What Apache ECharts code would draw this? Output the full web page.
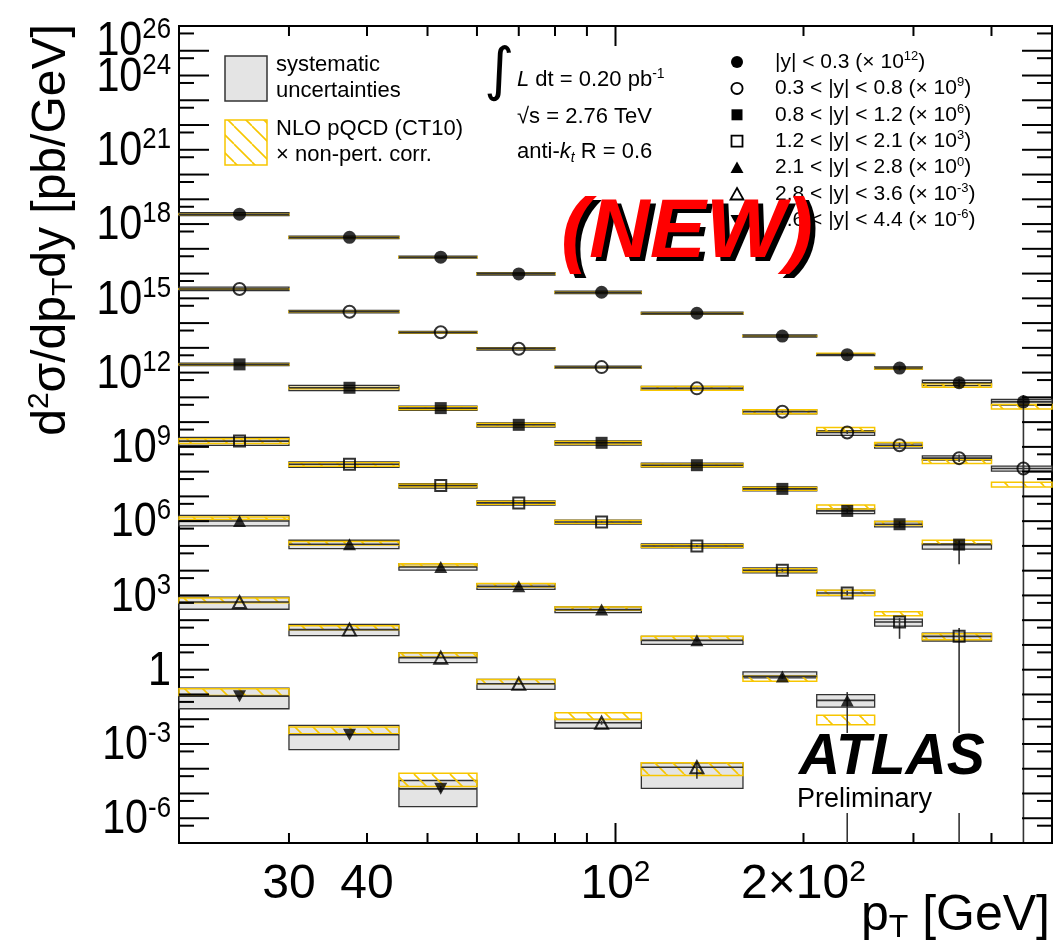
<!DOCTYPE html>
<html><head><meta charset="utf-8">
<script src="https://cdn.jsdelivr.net/npm/echarts@6/dist/echarts.min.js"></script>
<style>html,body{margin:0;padding:0;background:#fff}#c{width:1060px;height:952px}</style>
</head><body><div id="c"></div>
<script>
// ---------------- data ----------------
const xMin = 20, xMax = 500, yMin = 1e-7, yMax = 1e26;
const binEdges = [20, 30, 45, 60, 80, 110, 160, 210, 260, 310, 400, 500];
const rapidityBins = ['|y| < 0.3', '0.3 < |y| < 0.8', '0.8 < |y| < 1.2', '1.2 < |y| < 2.1',
                      '2.1 < |y| < 2.8', '2.8 < |y| < 3.6', '3.6 < |y| < 4.4'];
const scaleExponents = [12, 9, 6, 3, 0, -3, -6];
// d2sigma/dpT dy [pb/GeV], unscaled
const crossSection = [
  [2.5e6, 2.9e5, 4.6e4, 9.7e3, 1.76e3, 250, 30, 5.3, 1.53, 0.39, 0.066],
  [2.39e6, 2.88e5, 4.24e4, 9.2e3, 1.67e3, 231, 26.1, 3.83, 1.17, 0.35, 0.134],
  [2.15e6, 2.44e5, 3.68e4, 7.78e3, 1.46e3, 182, 20.1, 2.59, 0.75, 0.113],
  [1.71e6, 2.0e5, 2.75e4, 5.46e3, 930, 99.6, 10.4, 1.25, 0.084, 0.0222],
  [1.02e6, 1.17e5, 1.41e4, 2.33e3, 267, 15.3, 0.536, 0.0574],
  [5.41e5, 4.14e4, 3.06e3, 272, 7.2, 0.115],
  [8.55e4, 2.35e3, 15.4]
];
// statistical uncertainties [%]
const statUp = [
  [1, 1, 2, 3, 4, 6, 10, 15, 25, 45, 87],
  [1, 1, 2, 3, 4, 6, 10, 15, 25, 40, 40],
  [1, 1, 2, 3, 4, 6, 10, 18, 30, 45],
  [1, 1, 2, 3, 5, 8, 15, 25, 45, 117],
  [1, 1, 2, 3, 5, 10, 25, 117],
  [1, 2, 4, 8, 20, 50],
  [2, 6, 30]
];
const statDown = [
  [1, 1, 2, 3, 4, 6, 9, 13, 20, 35, 100],
  [1, 1, 2, 3, 4, 6, 9, 13, 20, 30, 30],
  [1, 1, 2, 3, 4, 6, 9, 15, 25, 84],
  [1, 1, 2, 3, 5, 8, 13, 20, 79, 100],
  [1, 1, 2, 3, 5, 9, 20, 100],
  [1, 2, 4, 7, 17, 66],
  [2, 6, 25]
];
// systematic uncertainties [%]
const sysUp = [
  [15, 12, 10, 12, 12, 10, 10, 10, 10, 26, 24],
  [18, 13, 10, 12, 10, 20, 20, 17, 24, 24, 24],
  [13, 24, 20, 20, 20, 20, 20, 20, 29, 10],
  [41, 24, 20, 20, 17, 20, 24, 29, 32, 36],
  [67, 45, 36, 29, 29, 45, 52, 70],
  [59, 64, 59, 49, 36, 50],
  [111, 138, 117]
];
const sysDown = [
  [13, 11, 9, 11, 11, 9, 9, 9, 9, 24, 26],
  [15, 11, 9, 11, 9, 17, 17, 24, 24, 17, 22],
  [11, 24, 19, 19, 19, 17, 17, 22, 22, 34],
  [33, 26, 22, 19, 19, 17, 22, 22, 31, 35],
  [37, 33, 26, 24, 24, 31, 13, 46],
  [49, 43, 37, 41, 40, 86],
  [69, 75, 81]
];
// NLO pQCD (CT10) x non-pert. corr. band, as ratio to data
const theoryHigh = [
  [1.03, 1.03, 1.03, 1.03, 1.03, 1.03, 1.03, 1.15, 1.0, 0.91, 0.78],
  [1.03, 1.03, 1.03, 1.03, 1.03, 1.2, 1.2, 1.59, 1.29, 0.886, 0.28],
  [1.03, 1.028, 1.13, 1.13, 1.13, 1.13, 1.13, 1.75, 1.29, 1.49],
  [1.24, 1.13, 1.13, 1.13, 1.13, 1.13, 1.15, 1.29, 2.61, 1.29],
  [1.45, 1.29, 1.36, 1.29, 1.29, 1.45, 1.048, 0.25],
  [1.45, 1.45, 1.55, 1.49, 2.54, 1.50],
  [1.97, 2.05, 4.31]
];
const theoryLow = [
  [0.97, 0.97, 0.97, 0.97, 0.97, 0.97, 0.97, 1.048, 0.91, 0.66, 0.51],
  [0.97, 0.97, 0.97, 0.97, 0.97, 0.83, 0.83, 1.10, 0.91, 0.61, 0.18],
  [0.97, 0.91, 0.886, 0.886, 0.886, 0.886, 0.886, 1.205, 0.937, 1.028],
  [0.81, 0.83, 0.886, 0.886, 0.886, 0.886, 0.87, 0.81, 1.80, 0.735],
  [1.15, 0.937, 1.067, 0.937, 0.937, 1.0, 0.63, 0.104],
  [0.945, 1.0, 1.067, 1.0, 1.36, 0.46],
  [1.067, 1.10, 1.24]
];
// axis ticks and labels
const xTickValues = [30, 40, 50, 60, 70, 80, 90, 100, 200, 300, 400];
const xMajorTicks = [100];
const xLabelValues = [30, 40, 100, 200];
const xLabelTexts = ['30', '40', '10^2', '2×10^2'];
const yLabelExponents = [26, 24, 21, 18, 15, 12, 9, 6, 3, 0, -3, -6];

// ---------------- helpers ----------------
const FONT = 'Liberation Sans, Arial, Helvetica, sans-serif';
function richText(s) {
  const i = s.indexOf('^');
  return i < 0 ? '{n|' + s + '}' : '{n|' + s.slice(0, i) + '}{s|' + s.slice(i + 1) + '}';
}
const yTickData = [];
for (let e = -7; e <= 26; e++) {
  yTickData.push([xMin, Math.pow(10, e), 1]);
  if (e < 26) yTickData.push([xMin, 5 * Math.pow(10, e), 0]);
}

const sysData = [], thData = [], lineData = [];
const scatterSeries = [];
const markerStyles = [
  { symbol: 'circle', size: 13, fill: '#000', rot: 0 },
  { symbol: 'circle', size: 12, fill: 'none', rot: 0 },
  { symbol: 'rect', size: 12, fill: '#000', rot: 0 },
  { symbol: 'rect', size: 11, fill: 'none', rot: 0 },
  { symbol: 'triangle', size: [13, 12], fill: '#000', rot: 0 },
  { symbol: 'triangle', size: [13, 12], fill: 'none', rot: 0 },
  { symbol: 'triangle', size: [13, 12], fill: '#000', rot: 180 }
];
crossSection.forEach((arr, s) => {
  const sc = Math.pow(10, scaleExponents[s]);
  const pts = [];
  arr.forEach((v0, j) => {
    const v = v0 * sc;
    const lo = binEdges[j], hi = binEdges[j + 1];
    const xc = (lo + hi) / 2;
    sysData.push([lo, hi, v * (1 - sysDown[s][j] / 100), v * (1 + sysUp[s][j] / 100)]);
    thData.push([lo, hi, v * theoryLow[s][j], v * theoryHigh[s][j]]);
    lineData.push([lo, hi, v, xc, v * (1 + statUp[s][j] / 100), v * (1 - statDown[s][j] / 100)]);
    pts.push([xc, v]);
  });
  const m = markerStyles[s];
  scatterSeries.push({
    type: 'scatter', name: rapidityBins[s], data: pts, z: 6,
    symbol: m.symbol, symbolSize: m.size, symbolRotate: m.rot, silent: true,
    itemStyle: m.fill === 'none'
      ? { color: 'rgba(0,0,0,0)', borderColor: '#000', borderWidth: 2 }
      : { color: '#000', borderWidth: 0 },
    emphasis: { disabled: true }
  });
});

// hatch pattern
const hatch = document.createElement('canvas');
hatch.width = 18; hatch.height = 18;
(function () {
  const g = hatch.getContext('2d');
  g.strokeStyle = '#f7c600'; g.lineWidth = 1.6;
  for (const k of [-18, 0, 18]) { g.beginPath(); g.moveTo(k, 0); g.lineTo(k + 18, 18); g.stroke(); }
})();
const hatchPattern = { image: hatch, repeat: 'repeat' };

function boxRect(api) {
  const a = api.coord([api.value(0), api.value(3)]);
  const b = api.coord([api.value(1), Math.max(api.value(2), yMin)]);
  return { x: a[0], y: a[1], width: b[0] - a[0], height: b[1] - a[1] };
}

const TK = { stroke: '#000', lineWidth: 2 };

const option = {
  animation: false,
  backgroundColor: '#fff',
  grid: { left: 179, right: 8, top: 26, bottom: 109, show: true, borderColor: '#000', borderWidth: 2,
          backgroundColor: 'transparent', outerBoundsMode: 'none', containLabel: false },
  xAxis: { type: 'log', logBase: 10, min: xMin, max: xMax,
           axisLine: { show: false }, axisTick: { show: false }, axisLabel: { show: false }, splitLine: { show: false } },
  yAxis: { type: 'log', logBase: 10, min: yMin, max: yMax,
           axisLine: { show: false }, axisTick: { show: false }, axisLabel: { show: false }, splitLine: { show: false } },
  series: [
    { // systematic uncertainty boxes
      type: 'custom', name: 'systematic uncertainties', z: 2, silent: true, data: sysData,
      encode: { x: [0, 1], y: [2, 3] },
      renderItem: (p, api) => ({ type: 'rect', shape: boxRect(api),
        style: { fill: '#e4e4e4', stroke: '#333', lineWidth: 1.3 } })
    },
    { // theory boxes
      type: 'custom', name: 'NLO pQCD (CT10)', z: 3, silent: true, data: thData,
      encode: { x: [0, 1], y: [2, 3] },
      renderItem: (p, api) => ({ type: 'rect', shape: boxRect(api),
        style: { fill: hatchPattern, stroke: '#f7c600', lineWidth: 1.5 } })
    },
    { // x-bin lines and statistical error bars
      type: 'custom', name: 'errors', z: 4, silent: true, data: lineData,
      encode: { x: [0, 1, 3], y: [2, 4, 5] },
      renderItem: (p, api) => {
        const l = api.coord([api.value(0), api.value(2)]);
        const r = api.coord([api.value(1), api.value(2)]);
        const t = api.coord([api.value(3), api.value(4)]);
        const b = api.coord([api.value(3), Math.max(api.value(5), yMin)]);
        return { type: 'group', children: [
          { type: 'line', shape: { x1: l[0], y1: l[1], x2: r[0], y2: r[1] }, style: { stroke: '#333', lineWidth: 1.6 } },
          { type: 'line', shape: { x1: t[0], y1: t[1], x2: b[0], y2: b[1] }, style: { stroke: '#333', lineWidth: 1.6 } }
        ] };
      }
    },
    ...scatterSeries,
    { // x ticks (bottom and top) + labels
      type: 'custom', name: 'xticks', z: 8, silent: true, clip: false,
      data: xTickValues.map(v => [v, yMin]),
      encode: { x: 0, y: 1 },
      renderItem: (p, api) => {
        const v = api.value(0);
        const b = api.coord([v, yMin]), t = api.coord([v, yMax]);
        const len = xMajorTicks.includes(v) ? 20 : 10;
        const ch = [
          { type: 'line', shape: { x1: b[0], y1: b[1], x2: b[0], y2: b[1] - len }, style: TK },
          { type: 'line', shape: { x1: t[0], y1: t[1], x2: t[0], y2: t[1] + len }, style: TK }
        ];
        const li = xLabelValues.indexOf(v);
        if (li >= 0) ch.push({ type: 'text', x: b[0], y: b[1] + 42, style: {
          text: richText(xLabelTexts[li]), align: 'center', verticalAlign: 'middle', fill: '#000',
          rich: { n: { fontSize: 48, fontFamily: FONT, lineHeight: 54 },
                  s: { fontSize: 30, fontFamily: FONT, lineHeight: 30, verticalAlign: 'top' } } } });
        return { type: 'group', children: ch };
      }
    },
    { // y ticks (left and right)
      type: 'custom', name: 'yticks', z: 8, silent: true, clip: false,
      data: yTickData, encode: { x: 0, y: 1 },
      renderItem: (p, api) => {
        const v = api.value(1);
        const l = api.coord([xMin, v]), r = api.coord([xMax, v]);
        const len = api.value(2) ? 30 : 15;
        return { type: 'group', children: [
          { type: 'line', shape: { x1: l[0], y1: l[1], x2: l[0] + len, y2: l[1] }, style: TK },
          { type: 'line', shape: { x1: r[0], y1: r[1], x2: r[0] - len, y2: r[1] }, style: TK }
        ] };
      }
    },
    { // y labels
      type: 'custom', name: 'ylabels', z: 8, silent: true, clip: false,
      data: yLabelExponents.map(e => [xMin, Math.pow(10, e)]), encode: { x: 0, y: 1 },
      renderItem: (p, api) => {
        const e = yLabelExponents[p.dataIndex];
        const c = api.coord([xMin, api.value(1)]);
        let y = c[1] + 2;
        if (e === yLabelExponents[0]) y += 14;
        return { type: 'text', x: c[0] - 8, y: y, scaleX: 0.86, style: {
          text: richText(e === 0 ? '1' : '10^' + e), align: 'right', verticalAlign: 'middle', fill: '#000',
          rich: { n: { fontSize: 48, fontFamily: FONT, lineHeight: 54 },
                  s: { fontSize: 30, fontFamily: FONT, lineHeight: 30, verticalAlign: 'top' } } } };
      }
    }
  ],
  graphic: { elements: [] }
};

// ---------- annotations ----------
const G = option.graphic.elements;
const T22 = { fontSize: 22, fontFamily: FONT, fill: '#000' };
G.push({ type: 'rect', shape: { x: 225, y: 56, width: 42, height: 45 }, style: { fill: '#e4e4e4', stroke: '#333', lineWidth: 1.5 }, z: 20 });
G.push({ type: 'text', x: 276, y: 65, style: Object.assign({ text: 'systematic', verticalAlign: 'middle' }, T22), z: 20 });
G.push({ type: 'text', x: 276, y: 91, style: Object.assign({ text: 'uncertainties', verticalAlign: 'middle' }, T22), z: 20 });
G.push({ type: 'rect', shape: { x: 225, y: 120, width: 42, height: 45 }, style: { fill: hatchPattern, stroke: '#f7c600', lineWidth: 1.5 }, z: 20 });
G.push({ type: 'text', x: 276, y: 129, style: Object.assign({ text: 'NLO pQCD (CT10)', verticalAlign: 'middle' }, T22), z: 20 });
G.push({ type: 'text', x: 276, y: 155, style: Object.assign({ text: '× non-pert. corr.', verticalAlign: 'middle' }, T22), z: 20 });
// luminosity etc.
G.push({ type: 'text', x: 499, y: 74, style: { text: '∫', fontSize: 58, fontFamily: 'DejaVu Sans', fill: '#000', align: 'center', verticalAlign: 'middle' }, z: 20 });
G.push({ type: 'text', x: 517, y: 80, z: 20, style: { text: '{i|L}{n| dt = 0.20 pb}{s|-1}', verticalAlign: 'middle', fill: '#000',
  rich: { n: { fontSize: 22, fontFamily: FONT, lineHeight: 26 }, i: { fontSize: 22, fontFamily: FONT, fontStyle: 'italic', lineHeight: 26 },
          s: { fontSize: 14, fontFamily: FONT, lineHeight: 14, verticalAlign: 'top' } } } });
G.push({ type: 'text', x: 517, y: 117, style: Object.assign({ text: '√s = 2.76 TeV', verticalAlign: 'middle' }, T22), z: 20 });
G.push({ type: 'text', x: 517, y: 152, z: 20, style: { text: '{n|anti-}{i|k}{b|t}{n| R = 0.6}', verticalAlign: 'middle', fill: '#000',
  rich: { n: { fontSize: 22, fontFamily: FONT, lineHeight: 26 }, i: { fontSize: 22, fontFamily: FONT, fontStyle: 'italic', lineHeight: 26 },
          b: { fontSize: 14, fontFamily: FONT, fontStyle: 'italic', lineHeight: 14, verticalAlign: 'bottom' } } } });
// right legend
const legX = 737, legTextX = 775, legY0 = 62, legDY = 26.4;
rapidityBins.forEach((name, s) => {
  const y = legY0 + s * legDY;
  const m = markerStyles[s];
  const st = m.fill === 'none' ? { fill: 'none', stroke: '#000', lineWidth: 1.8 } : { fill: '#000' };
  if (m.symbol === 'circle') G.push({ type: 'circle', shape: { cx: legX, cy: y, r: m.fill === 'none' ? 5.6 : 6 }, style: st, z: 20 });
  else if (m.symbol === 'rect') G.push({ type: 'rect', shape: { x: legX - 5.5, y: y - 5.5, width: 11, height: 11 }, style: st, z: 20 });
  else {
    const d = m.rot ? -1 : 1;
    G.push({ type: 'polygon', shape: { points: [[legX, y - 6 * d], [legX + 6.5, y + 5.5 * d], [legX - 6.5, y + 5.5 * d]] }, style: st, z: 20 });
  }
  G.push({ type: 'text', x: legTextX, y: y, z: 20, style: {
    text: '{n|' + name + ' (× 10}{s|' + scaleExponents[s] + '}{n|)}', verticalAlign: 'middle', fill: '#000',
    rich: { n: { fontSize: 21, fontFamily: FONT, lineHeight: 24 }, s: { fontSize: 13, fontFamily: FONT, lineHeight: 13, verticalAlign: 'top' } } } });
});
// (NEW)
G.push({ type: 'text', x: 692, y: 238, z: 30, style: { text: '(NEW)', fontSize: 84, fontWeight: 'bold', fontStyle: 'italic', fontFamily: FONT, fill: '#000', align: 'center', verticalAlign: 'middle' } });
G.push({ type: 'text', x: 687, y: 234, z: 31, style: { text: '(NEW)', fontSize: 84, fontWeight: 'bold', fontStyle: 'italic', fontFamily: FONT, fill: '#ff0000', align: 'center', verticalAlign: 'middle' } });
// ATLAS Preliminary
G.push({ type: 'rect', shape: { x: 796, y: 733, width: 196, height: 80 }, style: { fill: '#fff' }, z: 25 });
G.push({ type: 'text', x: 799, y: 758, z: 26, style: { text: 'ATLAS', fontSize: 57, fontWeight: 'bold', fontStyle: 'italic', fontFamily: FONT, fill: '#000', verticalAlign: 'middle' } });
G.push({ type: 'text', x: 797, y: 800, z: 26, style: { text: 'Preliminary', fontSize: 27, fontFamily: FONT, fill: '#000', verticalAlign: 'middle' } });
// axis titles
G.push({ type: 'text', x: 1050, y: 916, z: 20, style: { text: '{n|p}{b|T}{n| [GeV]}', align: 'right', verticalAlign: 'middle', fill: '#000',
  rich: { n: { fontSize: 50, fontFamily: FONT, lineHeight: 56 }, b: { fontSize: 32, fontFamily: FONT, lineHeight: 32, verticalAlign: 'bottom' } } } });
G.push({ type: 'text', x: 52, y: 230, rotation: Math.PI / 2, z: 20, style: { text: '{n|d}{s|2}{n|σ/dp}{b|T}{n|dy [pb/GeV]}', align: 'center', verticalAlign: 'middle', fill: '#000',
  rich: { n: { fontSize: 48, fontFamily: FONT, lineHeight: 54 }, s: { fontSize: 30, fontFamily: FONT, lineHeight: 30, verticalAlign: 'top' },
          b: { fontSize: 30, fontFamily: FONT, lineHeight: 30, verticalAlign: 'bottom' } } } });

const chart = echarts.init(document.getElementById('c'));
chart.setOption(option);
</script></body></html>
